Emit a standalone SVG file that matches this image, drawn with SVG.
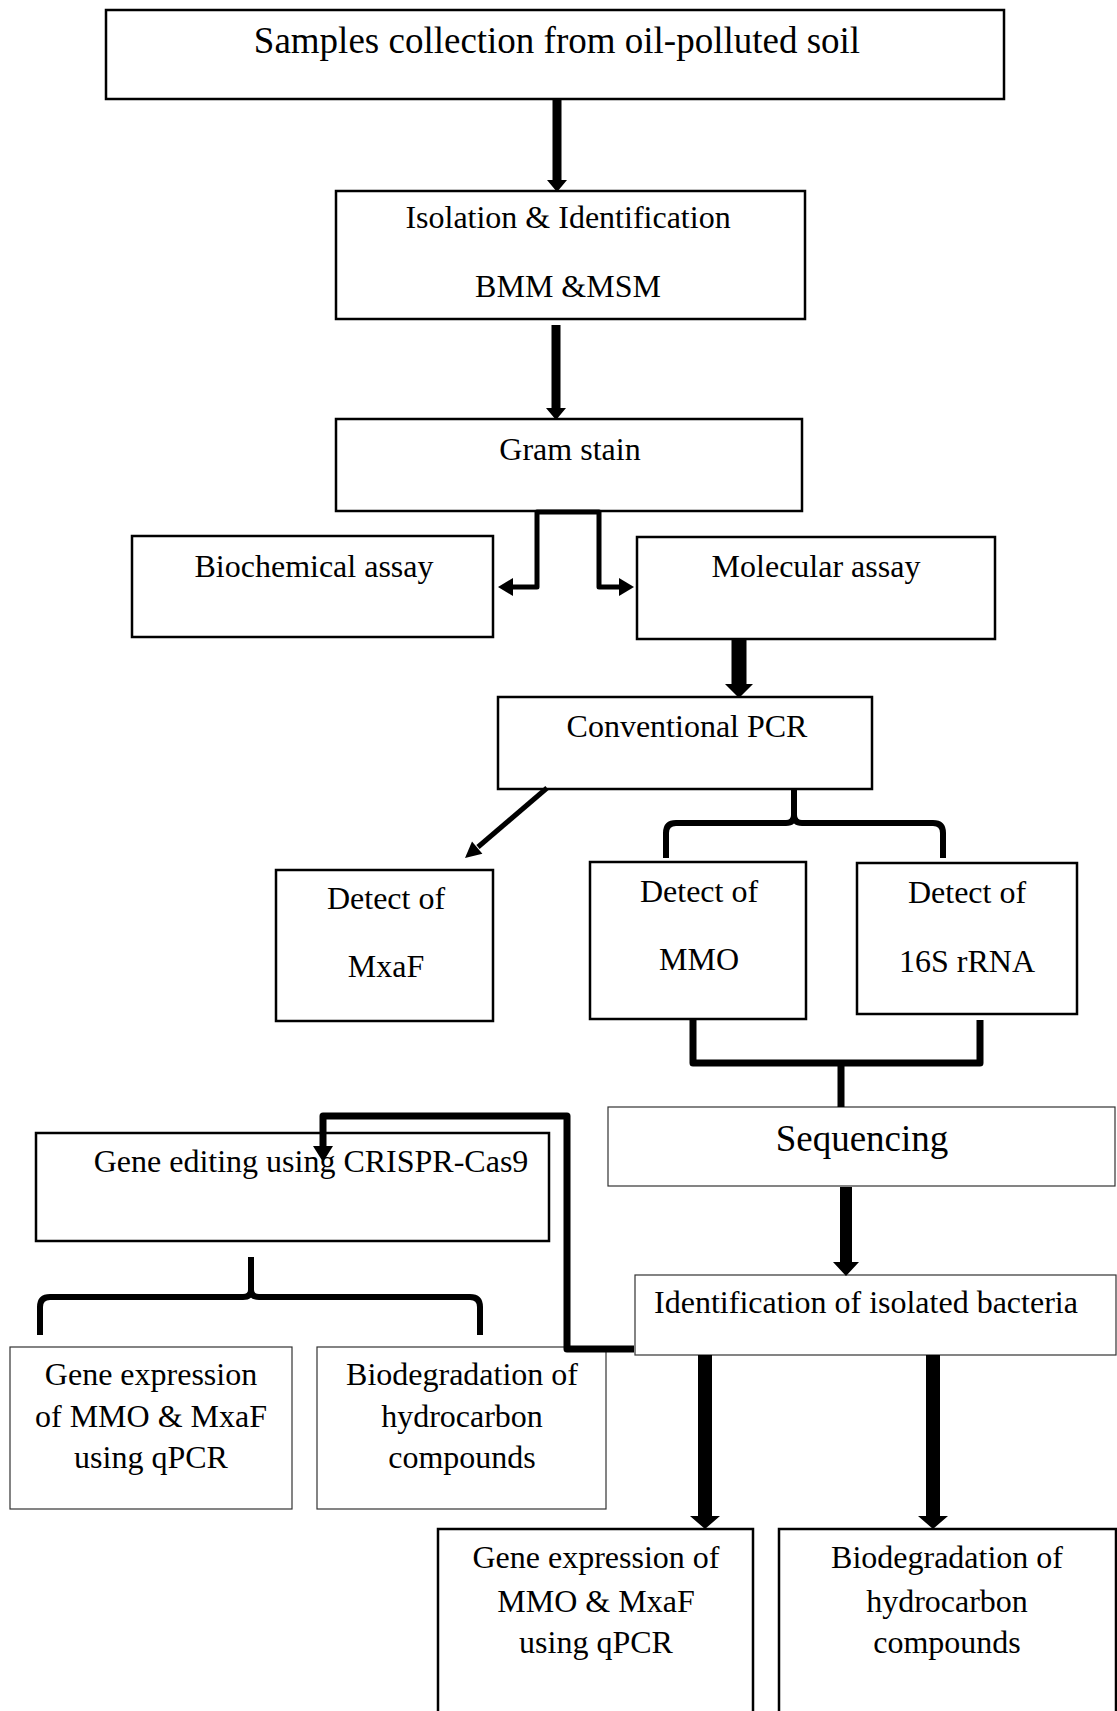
<svg xmlns="http://www.w3.org/2000/svg" width="1117" height="1711" viewBox="0 0 1117 1711">
<style>
.b{fill:#fff;stroke:#000;stroke-width:2.5}
.t{fill:#fff;stroke:#333;stroke-width:1.2}
text{font-family:"Liberation Serif","Times New Roman",serif;font-size:32px;fill:#000;text-anchor:middle}
.big{font-size:37px}
.c{fill:none;stroke:#000;stroke-linejoin:round;stroke-linecap:butt}
.h{fill:#000}
</style>
<rect width="1117" height="1711" fill="#fff"/>
<g id="n1"><rect class="b" x="106" y="10" width="898" height="89"/><text class="big" x="557" y="53">Samples collection from oil-polluted soil</text></g>
<g id="n2"><rect class="b" x="336" y="191" width="469" height="128"/><text x="568" y="228">Isolation &amp; Identification</text><text x="568" y="297">BMM &amp;MSM</text></g>
<g id="n3"><rect class="b" x="336" y="419" width="466" height="92"/><text x="570" y="460">Gram stain</text></g>
<g id="n4"><rect class="b" x="132" y="536" width="361" height="101"/><text x="314" y="577">Biochemical assay</text></g>
<g id="n5"><rect class="b" x="637" y="537" width="358" height="102"/><text x="816" y="577">Molecular assay</text></g>
<g id="n6"><rect class="b" x="498" y="697" width="374" height="92"/><text x="687" y="737">Conventional PCR</text></g>
<g id="n7"><rect class="b" x="276" y="870" width="217" height="151"/><text x="386" y="909">Detect of</text><text x="386" y="977">MxaF</text></g>
<g id="n8"><rect class="b" x="590" y="862" width="216" height="157"/><text x="699" y="902">Detect of</text><text x="699" y="970">MMO</text></g>
<g id="n9"><rect class="b" x="857" y="863" width="220" height="151"/><text x="967" y="903">Detect of</text><text x="967" y="972">16S rRNA</text></g>
<g id="n10"><rect class="t" x="608" y="1107" width="507" height="79"/><text class="big" x="862" y="1151">Sequencing</text></g>
<g id="n11"><rect class="t" x="635" y="1275" width="481" height="80"/><text x="866" y="1313">Identification of isolated bacteria</text></g>
<g id="n12"><rect class="b" x="36" y="1133" width="513" height="108"/><text x="311" y="1172">Gene editing using CRISPR-Cas9</text></g>
<g id="n13"><rect class="t" x="10" y="1347" width="282" height="162"/><text x="151" y="1385">Gene expression</text><text x="151" y="1427">of MMO &amp; MxaF</text><text x="151" y="1468">using qPCR</text></g>
<g id="n14"><rect class="t" x="317" y="1347" width="289" height="162"/><text x="462" y="1385">Biodegradation of</text><text x="462" y="1427">hydrocarbon</text><text x="462" y="1468">compounds</text></g>
<g id="n15"><rect class="b" x="438" y="1529" width="315" height="200"/><text x="596" y="1568">Gene expression of</text><text x="596" y="1612">MMO &amp; MxaF</text><text x="596" y="1653">using qPCR</text></g>
<g id="n16"><rect class="b" x="779" y="1529" width="337" height="200"/><text x="947" y="1568">Biodegradation of</text><text x="947" y="1612">hydrocarbon</text><text x="947" y="1653">compounds</text></g>
<g id="connectors">
<polygon class="h" points="552.5,99 561.5,99 561.5,180 567,180 557,192 547,180 552.5,180"/>
<polygon class="h" points="551.5,325 560.5,325 560.5,408 566,408 556,420 546,408 551.5,408"/>
<path class="c" stroke-width="5" d="M512 587 H537 V512 H599 V587 H620"/>
<polygon class="h" points="498,587 513,578 513,596"/>
<polygon class="h" points="634,587 619,578 619,596"/>
<polygon class="h" points="731.5,640 746.5,640 746.5,684 753,684 739,698 725,684 731.5,684"/>
<line class="c" stroke-width="5" x1="547" y1="788" x2="478" y2="847"/>
<polygon class="h" points="465,858 482.4,853.7 472,841.5"/>
<path class="c" stroke-width="6" d="M794 788 V815 Q794 823 786 823 H676 Q666 823 666 833 V858 M794 815 Q794 823 802 823 H933 Q943 823 943 833 V858"/>
<path class="c" stroke-width="7" d="M693 1020 V1063 H980 V1020 M841 1063 V1107"/>
<polygon class="h" points="840,1187 852,1187 852,1262 859,1262 846,1276 833,1262 840,1262"/>
<path class="c" stroke-width="7" d="M634 1349 H567 V1116 H323 V1148"/>
<polygon class="h" points="323,1162 313,1146 333,1146"/>
<path class="c" stroke-width="6" d="M251 1257 V1290 Q251 1297 243 1297 H50 Q40 1297 40 1307 V1335 M251 1290 Q251 1297 259 1297 H470 Q480 1297 480 1307 V1335"/>
<polygon class="h" points="698,1355 712,1355 712,1516 720,1516 705,1529 690,1516 698,1516"/>
<polygon class="h" points="926,1355 940,1355 940,1516 948,1516 933,1529 918,1516 926,1516"/>
</g>
</svg>
